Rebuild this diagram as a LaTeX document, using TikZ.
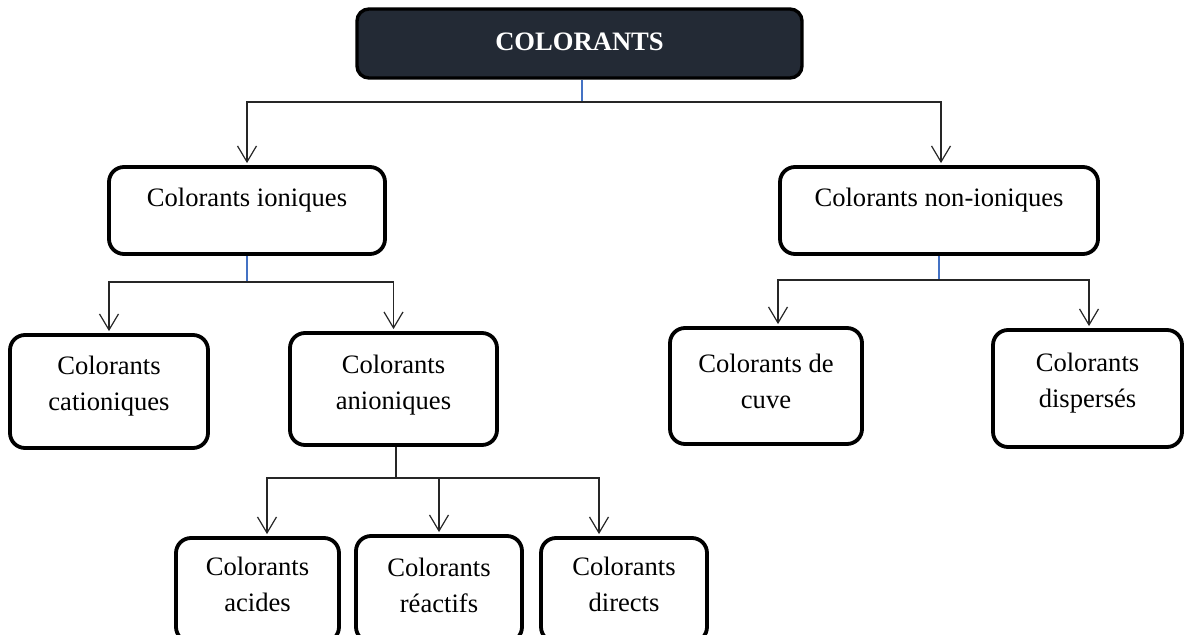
\documentclass[tikz,border=0pt]{standalone}
\usepackage{fontspec}
\setmainfont{Liberation Serif}
\usetikzlibrary{arrows.meta,calc}
\definecolor{topfill}{HTML}{232A35}
\definecolor{linkblue}{HTML}{4472C4}
\begin{document}
\begin{tikzpicture}[x=0.5pt,y=-0.5pt,
  box/.style={draw=black,line width=1.9pt,rounded corners=7.5pt,minimum width=#1,inner sep=0pt},
  topbox/.style={draw=black,line width=1.7pt,fill=topfill,rounded corners=6pt,inner sep=0pt,
     minimum width=222.5pt,minimum height=34.5pt},
  txt/.style={align=center,font=\fontsize{13.3}{18}\selectfont,inner sep=0pt},
  conn/.style={draw=black!85,line width=0.6pt},
  bconn/.style={draw=linkblue,line width=0.6pt},
  arr/.style={conn,-{Straight Barb[length=8pt,width=9.5pt,line width=0.6pt]},shorten >=1pt}]
\useasboundingbox (0,0) rectangle (1186,635);
% boxes
\node[topbox] (top) at (579.5,43.5) {};
\node[txt,text=white,font=\fontsize{13.3}{18}\selectfont\bfseries] (topT) at (579.5,42) {COLORANTS};
\node[box=138pt,minimum height=43.5pt] (ion) at (247,210.5) {};
\node[txt] (ionT) at (247,200) {Colorants ioniques};
\node[box=159pt,minimum height=43.5pt] (non) at (939,210.5) {};
\node[txt] (nonT) at (939,200) {Colorants non-ioniques};
\node[box=99pt,minimum height=56.5pt] (cat) at (109,391.5) {};
\node[txt] (catT) at (109,386) {Colorants\\cationiques};
\node[box=103.5pt,minimum height=56pt] (ani) at (393.5,389) {};
\node[txt] (aniT) at (393.5,385) {Colorants\\anioniques};
\node[box=96pt,minimum height=58pt] (cuv) at (766,386) {};
\node[txt] (cuvT) at (766,381) {Colorants de\\cuve};
\node[box=94.5pt,minimum height=58.5pt] (dis) at (1087.5,388.5) {};
\node[txt] (disT) at (1087.5,383) {Colorants\\dispersés};
\node[box=81.5pt,minimum height=52pt] (aci) at (257.5,590) {};
\node[txt] (aciT) at (257.5,584) {Colorants\\acides};
\node[box=83pt,minimum height=53pt] (rea) at (439,589) {};
\node[txt] (reaT) at (439,585) {Colorants\\réactifs};
\node[box=83pt,minimum height=52pt] (dir) at (624,590) {};
\node[txt] (dirT) at (624,584) {Colorants\\directs};
% junctions
\coordinate (j0) at (582,102);
\coordinate (j1) at (247,282);
\coordinate (j2) at (939,280);
\coordinate (j3) at (396,478);
% level 1
\draw[bconn] (top.south -| j0) -- (j0);
\draw[arr] (j0) -| (ion.north);
\draw[arr] (j0) -| ([xshift=1pt]non.north);
% ioniques
\draw[bconn] (ion.south) -- (j1);
\draw[arr] (j1) -| (cat.north);
\draw[arr] (j1) -| (ani.north);
% non-ioniques
\draw[bconn] (non.south) -- (j2);
\draw[arr] (j2) -| ([xshift=6pt]cuv.north);
\draw[arr] (j2) -| ([xshift=0.75pt]dis.north);
% anioniques
\draw[conn] (ani.south -| j3) -- (j3);
\draw[arr] (j3) -| ([xshift=4.75pt]aci.north);
\draw[arr] (j3) -| ([xshift=-12.5pt]dir.north);
\draw[arr] (j3 -| rea.north) -- (rea.north);
\end{tikzpicture}
\end{document}
